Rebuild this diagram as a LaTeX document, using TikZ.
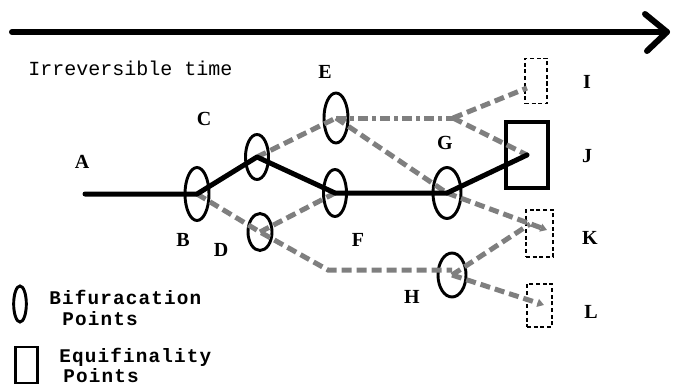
\documentclass[tikz,border=0pt]{standalone}
\usepackage{fontspec}
\setmainfont{Liberation Serif}
\newfontfamily\monof{Liberation Mono}
\newfontfamily\monofsp[LetterSpace=6]{Liberation Mono}
\usetikzlibrary{shapes.geometric,arrows.meta}
\definecolor{pathgray}{HTML}{7F7F7F}
\tikzset{
  bif/.style={ellipse, draw, line width=2.2pt, inner sep=0pt},
  endbox/.style={rectangle, draw, line width=0.8pt, dash pattern=on 3pt off 2pt, inner sep=0pt},
  eqbox/.style={rectangle, draw, line width=3pt, inner sep=0pt},
  lbl/.style={font=\fontsize{15pt}{15pt}\selectfont\bfseries, inner sep=0pt},
  legtext/.style={font=\monofsp\bfseries\fontsize{14.5pt}{14.5pt}\selectfont, inner sep=0pt, anchor=west},
  realpath/.style={line width=3.75pt, black, line cap=round, line join=round},
  altpath/.style={line width=3.75pt, pathgray, dash pattern=on 7.5pt off 3.75pt},
  altdot/.style={line width=3.75pt, pathgray, dash pattern=on 7.5pt off 3pt on 3pt off 3pt},
  tip/.style={-{Triangle[length=5pt,width=6pt]}}
}
\begin{document}
\begin{tikzpicture}[x=0.75pt,y=-0.75pt]
\useasboundingbox (0,0) rectangle (674,385);
% time arrow
\coordinate (t0) at (12,32);
\coordinate (t1) at (667,32);
\coordinate (th1) at (645,14);
\coordinate (th2) at (647,51);
\draw[line width=4.5pt, line cap=round, line join=round] (t0) -- (t1);
\draw[line width=4.5pt, line cap=round, line join=round] (th1) -- (t1) -- (th2);
\node[font=\monof\fontsize{15pt}{15pt}\selectfont, anchor=west, inner sep=0pt] (time) at (28,68) {Irreversible time};

% bifurcation points
\node[bif, minimum width=18pt, minimum height=39.75pt] (B) at (197,194) {};
\node[bif, minimum width=17.25pt, minimum height=33.75pt] (C) at (257,157) {};
\node[bif, minimum width=18pt, minimum height=27.75pt] (D) at (260,232) {};
\node[bif, minimum width=18pt, minimum height=37.5pt] (E) at (336,118) {};
\node[bif, minimum width=17.25pt, minimum height=35.25pt] (F) at (335,193) {};
\node[bif, minimum width=21pt, minimum height=38.25pt] (G) at (447,193) {};
\node[bif, minimum width=21pt, minimum height=33pt] (H) at (452,275) {};

% end points
\node[endbox, minimum width=16.5pt, minimum height=33.75pt] (I) at (536,81) {};
\node[eqbox, minimum width=31.5pt, minimum height=49.5pt] (J) at (527,155) {};
\node[endbox, minimum width=20.25pt, minimum height=35.25pt] (K) at (539.5,233.5) {};
\node[endbox, minimum width=18.75pt, minimum height=32.25pt] (L) at (539.5,305.5) {};

% helper coordinates
\coordinate (Astart) at (85,194);
\coordinate (Dcorner) at (328,270);
\coordinate (split) at (453,118);
\coordinate (Iend) at (527,88);
\coordinate (Kend1) at (547,230);
\coordinate (Kend2) at (530,224);
\coordinate (Lend) at (544,305);

% alternative (gray) paths
\draw[altpath] (B.center) -- (D.center) -- (Dcorner) -- (Dcorner -| H.center);
\draw[altpath] (D.center) -- (F.center);
\draw[altpath] (C.center) -- (E.center);
\draw[altdot] (E.center) -- (split);
\draw[altpath] (split) -- (Iend);
\draw[altpath] (split) -- (J.center);
\draw[altpath] (E.center) -- (G.center);
\draw[altpath, tip] (G.center) -- (Kend1);
\draw[altpath] (H.center) -- (Kend2);
\draw[altpath, tip] (H.center) -- (Lend);

% realised path
\draw[realpath] (Astart) -- (B.center) -- (C.center) -- (F.center) -- (G.center) -- (J.center);

% labels
\node[lbl] (lA) at (82,162) {A};
\node[lbl] (lB) at (183,240) {B};
\node[lbl] (lC) at (204,119) {C};
\node[lbl] (lD) at (221,250) {D};
\node[lbl] (lE) at (325,72) {E};
\node[lbl] (lF) at (358,240) {F};
\node[lbl] (lG) at (445,143) {G};
\node[lbl] (lH) at (412,297) {H};
\node[lbl] (lI) at (587,82) {I};
\node[lbl] (lJ) at (587,156) {J};
\node[lbl] (lK) at (590,238) {K};
\node[lbl] (lL) at (591,312) {L};

% legend
\node[bif, minimum width=9.5pt, minimum height=27pt] (legB) at (20,304) {};
\node[legtext] (legBt1) at (49,297) {Bifuracation};
\node[legtext] (legBt2) at (62,319) {Points};
\node[eqbox, line width=2.2pt, minimum width=17pt, minimum height=27pt] (legE) at (26.5,365) {};
\node[legtext] (legEt1) at (59,357) {Equifinality};
\node[legtext] (legEt2) at (63,376) {Points};
\end{tikzpicture}
\end{document}
